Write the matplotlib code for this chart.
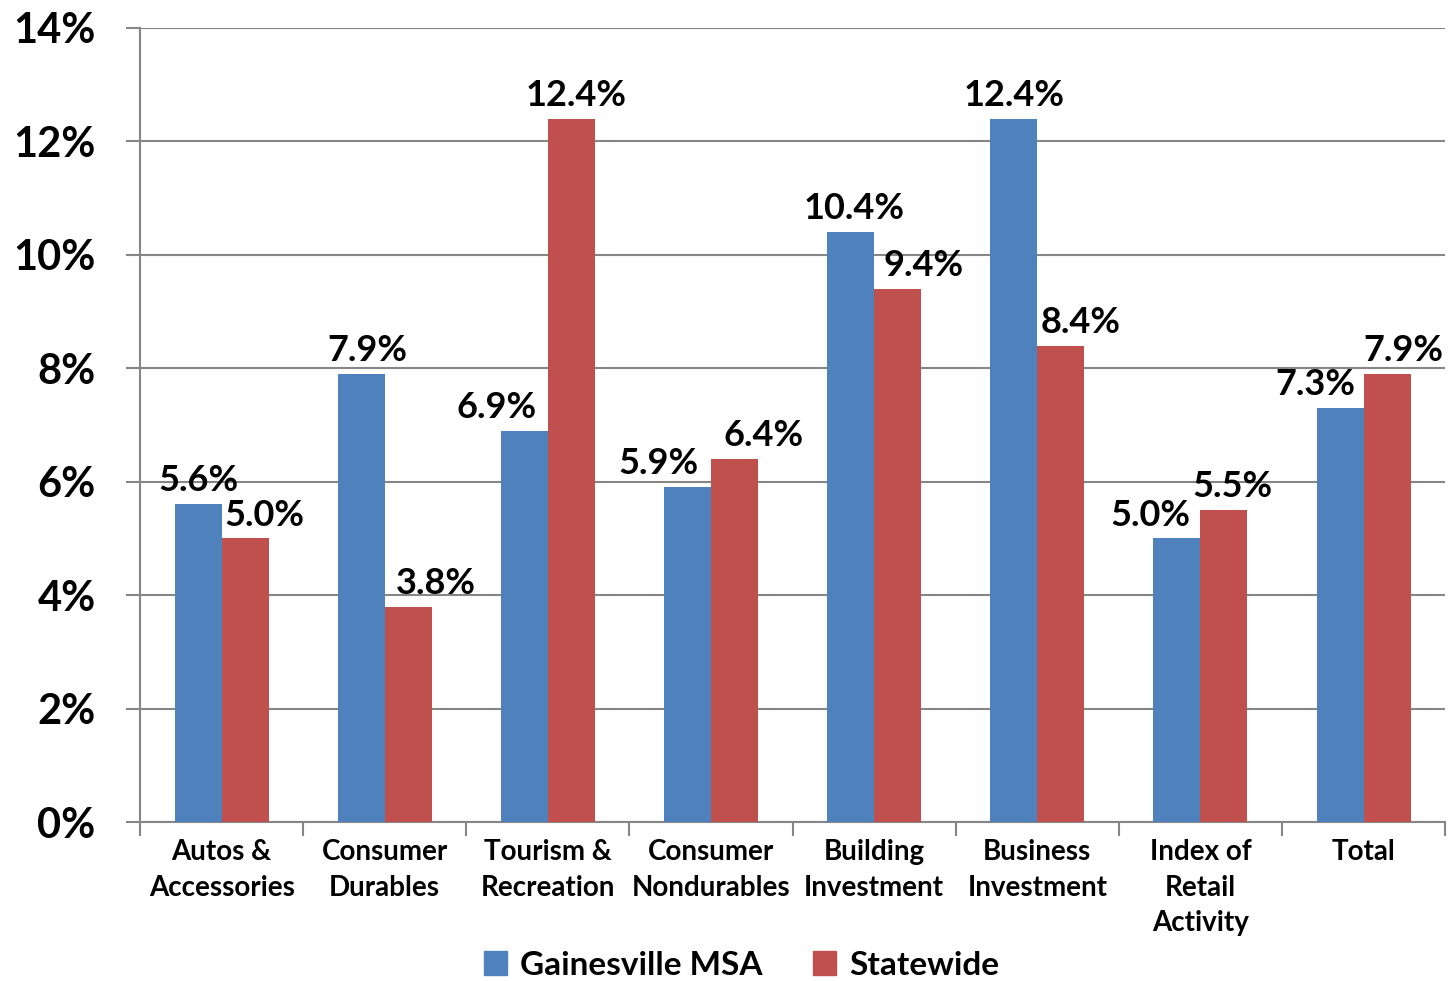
import matplotlib
matplotlib.use('Agg')
import matplotlib.pyplot as plt
import numpy as np

plt.rcParams['font.family'] = ['Lato', 'DejaVu Sans']
plt.rcParams['font.weight'] = 'bold'

categories = ['Autos &\nAccessories', 'Consumer\nDurables', 'Tourism &\nRecreation',
              'Consumer\nNondurables', 'Building\nInvestment', 'Business\nInvestment',
              'Index of\nRetail\nActivity', 'Total']
gainesville = [5.6, 7.9, 6.9, 5.9, 10.4, 12.4, 5.0, 7.3]
statewide = [5.0, 3.8, 12.4, 6.4, 9.4, 8.4, 5.5, 7.9]
yticks = [0, 2, 4, 6, 8, 10, 12, 14]

# label x nudges (in category units), like the hand-placed Excel labels
blue_dx = [0.0, 0.04, -0.17, -0.18, 0.02, 0.0, -0.16, -0.15]
red_dx = [0.12, 0.17, 0.03, 0.18, 0.16, 0.12, 0.05, 0.1]

blue = '#4F81BD'
red = '#C0504D'
gray = '#868686'

fig = plt.figure(figsize=(14.51, 9.81), dpi=100)
ax = fig.add_axes([0.0965, 0.162, 0.8995, 0.8095])

x = np.arange(len(categories))
w = 0.288
ax.bar(x - w / 2, gainesville, w, color=blue, zorder=3)
ax.bar(x + w / 2, statewide, w, color=red, zorder=3)

for i in range(len(categories)):
    ax.annotate(f'{gainesville[i]:.1f}%', (x[i] - w / 2 + blue_dx[i], gainesville[i]),
                xytext=(0, 5), textcoords='offset points', ha='center', va='bottom',
                fontsize=26, fontweight='bold', zorder=4)
    ax.annotate(f'{statewide[i]:.1f}%', (x[i] + w / 2 + red_dx[i], statewide[i]),
                xytext=(0, 5), textcoords='offset points', ha='center', va='bottom',
                fontsize=26, fontweight='bold', zorder=4)

ax.set_xlim(-0.5, len(categories) - 0.5)
ax.set_ylim(0, 14)
ax.set_yticks(yticks)
ax.set_yticklabels([f'{t}%' for t in yticks], fontsize=30, fontweight='bold')
ax.yaxis.grid(True, color=gray, linewidth=1.5, zorder=0)
ax.tick_params(axis='y', length=10, width=1.5, color=gray, pad=22)

ax.set_xticks(np.arange(len(categories) + 1) - 0.5)
ax.set_xticklabels([])
ax.tick_params(axis='x', length=10, width=1.5, color=gray, direction='out')
for i, c in enumerate(categories):
    ax.text(x[i], -0.3, c, ha='center', va='top', fontsize=20, fontweight='bold',
            linespacing=1.45)

for s in ['top', 'right']:
    ax.spines[s].set_visible(False)
for s in ['left', 'bottom']:
    ax.spines[s].set_color(gray)
    ax.spines[s].set_linewidth(1.5)

handles = [plt.Rectangle((0, 0), 1, 1, color=blue), plt.Rectangle((0, 0), 1, 1, color=red)]
fig.legend(handles, ['Gainesville MSA', 'Statewide'], loc='center',
           bbox_to_anchor=(0.511, 0.016), ncol=2, frameon=False,
           prop={'size': 24, 'weight': 'bold'}, handlelength=0.7, handleheight=0.7,
           columnspacing=1.5, handletextpad=0.4)

fig.savefig('out.png', dpi=100)
